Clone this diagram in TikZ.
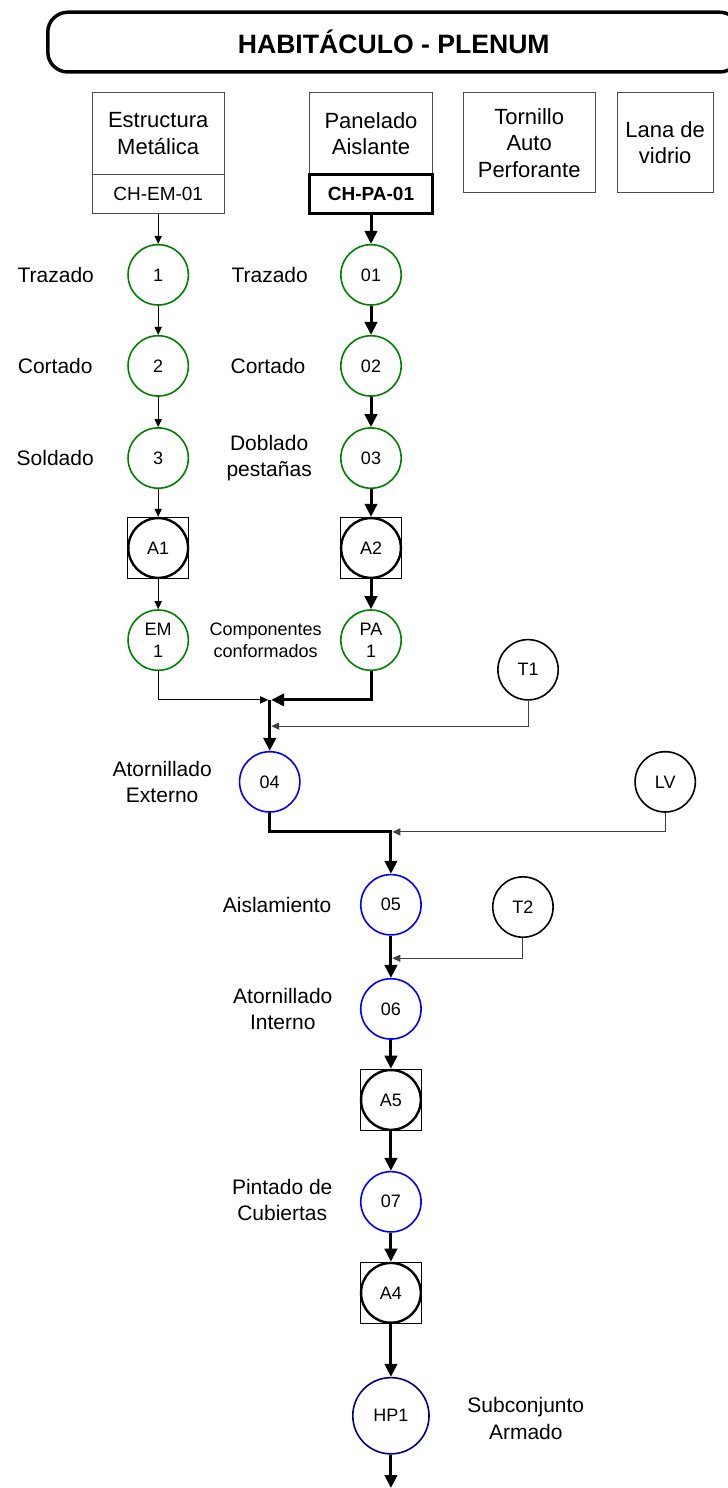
\documentclass[tikz,border=0pt]{standalone}
\usepackage{fontspec}
\setmainfont{Liberation Sans}
\usetikzlibrary{arrows.meta}
\tikzstyle{titlebox} = [rectangle, draw=black, line width=1.75pt, rounded corners=0.35cm, minimum width=12.16cm, minimum height=1.05cm, font=\fontsize{13.3}{16}\selectfont\bfseries]
\tikzstyle{rect} = [rectangle, draw=black!70, line width=0.5pt, align=center, inner sep=0pt, font=\fontsize{11}{13.3}\selectfont]
\tikzstyle{code} = [rect, minimum height=0.67cm, font=\fontsize{9.5}{11}\selectfont]
\tikzstyle{opgreen} = [circle, draw=green!50!black, line width=0.8pt, minimum size=1.06cm, inner sep=0pt, align=center, font=\fontsize{9}{11}\selectfont]
\tikzstyle{opblue} = [opgreen, draw=blue]
\tikzstyle{matcirc} = [opgreen, draw=black]
\tikzstyle{insp} = [rectangle, draw=black, line width=0.75pt, minimum size=1.07cm, inner sep=0pt]
\tikzstyle{inspc} = [circle, draw=black, line width=1.2pt, minimum size=1.05cm, inner sep=0pt, font=\fontsize{9}{11}\selectfont]
\tikzstyle{lbl} = [align=center, font=\fontsize{10.5}{13.3}\selectfont]
\tikzstyle{flowthin} = [draw=black, line width=0.5pt, -{Triangle[length=4pt,width=3.6pt]}]
\tikzstyle{flowthick} = [draw=black, line width=1.5pt, -{Triangle[length=6.5pt,width=6.2pt]}]
\tikzstyle{feed} = [flowthin, draw=black!75, shorten >=0.75pt]

\begin{document}
\begin{tikzpicture}

            \useasboundingbox (0,0) rectangle (12.79,-26.15);

            \node (titulo) [titlebox] at (6.92,-0.74) {HABITÁCULO - PLENUM};

            %% materiales
            \node (em) [rect, minimum width=2.32cm, minimum height=1.44cm] at (2.78,-2.35) {Estructura\\Metálica};
            \node (emcod) [code, minimum width=2.32cm] at (2.78,-3.41) {CH-EM-01};

            \node (pa) [rect, minimum width=2.16cm, minimum height=1.44cm] at (6.52,-2.35) {Panelado\\Aislante};
            \node (pacod) [code, minimum width=2.16cm, draw=black, line width=1.5pt, font=\fontsize{9.5}{11}\selectfont\bfseries] at (6.52,-3.41) {CH-PA-01};

            \node (tor) [rect, minimum width=2.32cm, minimum height=1.76cm] at (9.30,-2.51) {Tornillo\\Auto\\Perforante};
            \node (lana) [rect, minimum width=1.69cm, minimum height=1.76cm] at (11.69,-2.51) {Lana de\\vidrio};

            %% estructura metalica
            \node (e1) [opgreen] at (2.78,-4.83) {1};
            \node (e2) [opgreen] at (2.78,-6.43) {2};
            \node (e3) [opgreen] at (2.78,-8.05) {3};
            \node (a1) [insp] at (2.78,-9.63) {};
            \node (a1c) [inspc] at (a1) {A1};
            \node (em1) [opgreen] at (2.78,-11.25) {EM\\1};

            \node (lt1) [lbl] at (0.98,-4.83) {Trazado};
            \node (lc1) [lbl] at (0.97,-6.43) {Cortado};
            \node (ls1) [lbl] at (0.97,-8.05) {Soldado};

            \draw [flowthin] (emcod) -- (e1);
            \draw [flowthin] (e1) -- (e2);
            \draw [flowthin] (e2) -- (e3);
            \draw [flowthin] (e3) -- (a1);
            \draw [flowthin] (a1) -- (em1);

            %% panelado
            \node (p1) [opgreen] at (6.52,-4.83) {01};
            \node (p2) [opgreen] at (6.52,-6.43) {02};
            \node (p3) [opgreen] at (6.52,-8.05) {03};
            \node (a2) [insp] at (6.52,-9.63) {};
            \node (a2c) [inspc] at (a2) {A2};
            \node (pa1) [opgreen] at (6.52,-11.25) {PA\\1};

            \node (lt2) [lbl] at (4.74,-4.83) {Trazado};
            \node (lc2) [lbl] at (4.71,-6.43) {Cortado};
            \node (ld2) [lbl] at (4.73,-8.05) {Doblado\\pestañas};
            \node (lcc) [lbl, font=\fontsize{9}{11}\selectfont] at (4.67,-11.25) {Componentes\\conformados};

            \draw [flowthick] (pacod) -- (p1);
            \draw [flowthick] (p1) -- (p2);
            \draw [flowthick] (p2) -- (p3);
            \draw [flowthick] (p3) -- (a2);
            \draw [flowthick] (a2) -- (pa1);

            %% ensamble
            \coordinate (jn) at (4.74,-12.30);
            \coordinate (jt1) at (4.74,-12.76);
            \node (t1) [matcirc] at (9.28,-11.77) {T1};

            \node (o4) [opblue] at (4.74,-13.74) {04};
            \node (lv) [matcirc] at (11.69,-13.74) {LV};
            \node (lo4) [lbl] at (2.85,-13.74) {Atornillado\\Externo};

            \draw [flowthin, shorten >=0.75pt] (em1) |- (jn);
            \draw [flowthick, shorten >=0.75pt] (pa1) |- (jn);
            \draw [flowthick] (jn) -- (o4);
            \draw [feed] (t1) |- (jt1);

            \coordinate (j2) at (6.87,-14.62);
            \coordinate (jt2) at (6.87,-16.84);
            \coordinate (fin) at (6.87,-26.15);

            \node (o5) [opblue] at (6.87,-15.90) {05};
            \node (t2) [matcirc] at (9.19,-15.94) {T2};
            \node (o6) [opblue] at (6.87,-17.73) {06};
            \node (a5) [insp] at (6.87,-19.33) {};
            \node (a5c) [inspc] at (a5) {A5};
            \node (o7) [opblue] at (6.87,-21.12) {07};
            \node (a4) [insp] at (6.87,-22.72) {};
            \node (a4c) [inspc] at (a4) {A4};
            \node (hp1) [opblue, draw=blue!50!black, minimum size=1.34cm] at (6.87,-24.88) {HP1};

            \node (lo5) [lbl] at (4.87,-15.90) {Aislamiento};
            \node (lo6) [lbl] at (4.97,-17.73) {Atornillado\\Interno};
            \node (lo7) [lbl] at (4.96,-21.09) {Pintado de\\Cubiertas};
            \node (lhp) [lbl] at (9.24,-24.93) {Subconjunto\\Armado};

            \draw [flowthick] (o4) |- (j2) -- (o5);
            \draw [feed] (lv) |- (j2);
            \draw [flowthick] (o5) -- (o6);
            \draw [feed] (t2) |- (jt2);
            \draw [flowthick] (o6) -- (a5);
            \draw [flowthick] (a5) -- (o7);
            \draw [flowthick] (o7) -- (a4);
            \draw [flowthick] (a4) -- (hp1);
            \draw [flowthick] (hp1) -- (fin);

        \end{tikzpicture}
\end{document}
